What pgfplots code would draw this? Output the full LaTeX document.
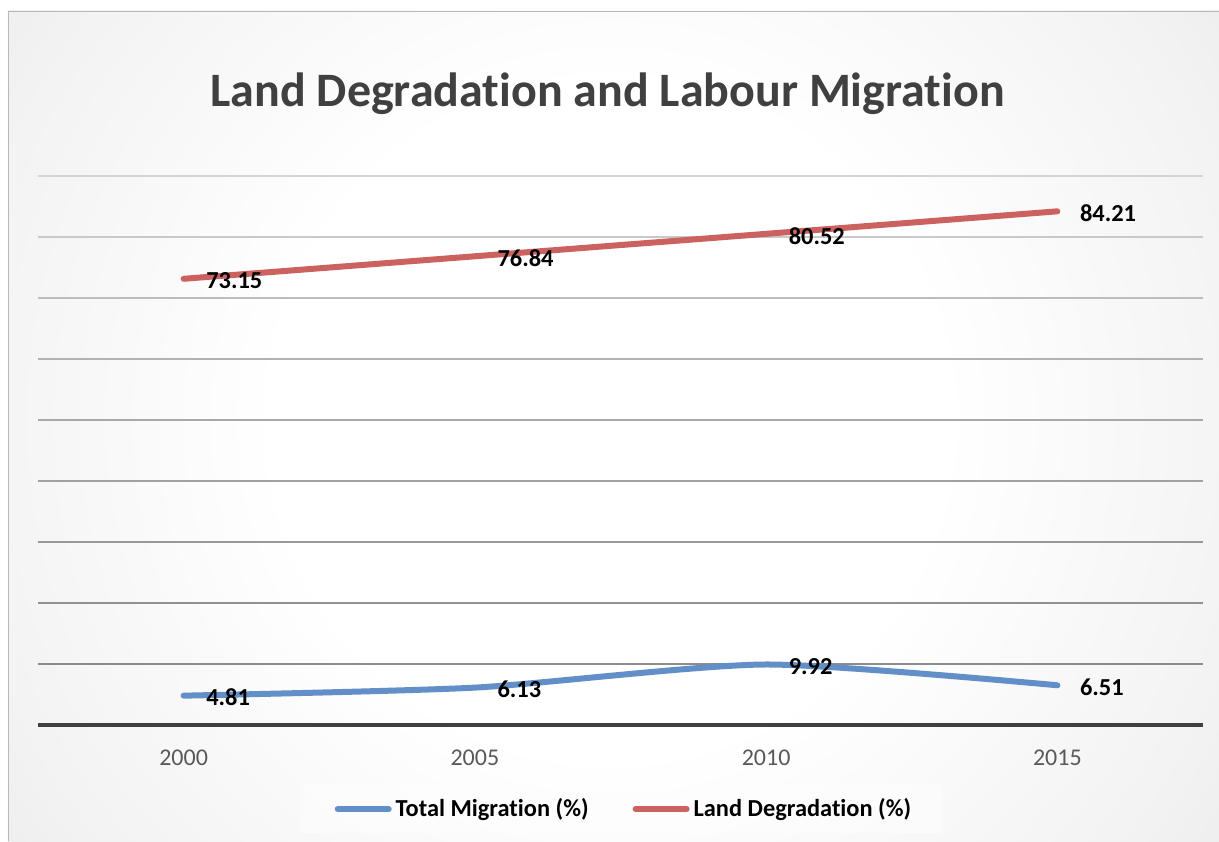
\documentclass[border=0pt]{standalone}
\usepackage{pgfplots}
\pgfplotsset{compat=1.18}
\usepackage{fontspec}
\setmainfont{Carlito}[Ligatures={NoCommon}]
\definecolor{titlegray}{HTML}{404040}
\definecolor{tickgray}{HTML}{595959}
\definecolor{axisgray}{HTML}{404040}
\definecolor{mblue}{RGB}{99,143,201}
\definecolor{mred}{RGB}{204,98,96}
\definecolor{bgA}{gray}{1.0}
\definecolor{bgB}{gray}{0.95}
\definecolor{bgC}{gray}{0.86}
\definecolor{bgD}{gray}{0.79}
\definecolor{bgE}{gray}{0.77}
\pgfdeclareradialshading{chartbg}{\pgfpoint{0bp}{0bp}}{%
  color(0bp)=(bgA); color(11bp)=(bgA); color(22bp)=(bgB); color(36bp)=(bgC); color(48bp)=(bgD); color(50bp)=(bgE)}
\begin{document}
\begin{tikzpicture}
\useasboundingbox (-19pt,-58pt) rectangle (590.5pt,362.5pt);
\fill[white] (-19pt,-58pt) rectangle (590.5pt,362.5pt);
\begin{scope}
\clip (-15pt,-58pt) rectangle (590.5pt,357pt);
\fill[bgE] (-15pt,-58pt) rectangle (590.5pt,357pt);
\shade[shading=chartbg] (286pt,152.5pt) circle (380pt);
\end{scope}
\draw[black!28, line width=0.5pt] (-14.75pt,-58pt) -- (-14.75pt,356.75pt) -- (590.5pt,356.75pt);
% legend box
\fill[white, opacity=0.45] (131pt,-54pt) rectangle (452pt,-30pt);
% title
\node[anchor=base, text=titlegray, font=\bfseries\fontsize{24}{29}\selectfont] at (284.75pt,309pt) {Land Degradation and Labour Migration};
\begin{axis}[
  at={(0pt,0pt)}, anchor=south west,
  scale only axis, width=582.5pt, height=274.5pt,
  xmin=-0.5, xmax=3.5, ymin=0, ymax=90,
  hide y axis,
  axis x line=bottom,
  x axis line style={axisgray, line width=2pt, -},
  xtick={0,1,2,3}, xticklabels={2000,2005,2010,2015},
  major tick length=0pt,
  xticklabel style={anchor=base, yshift=-20pt, text=tickgray, font=\fontsize{12}{14}\selectfont},
  /pgf/number format/assume math mode=true,
  clip=false,
  legend style={draw=none, fill=none, at={(axis description cs:0.5038,-0.153)}, anchor=center,
    font=\bfseries\fontsize{12.2}{14}\selectfont, inner sep=0pt,
    /tikz/every even column/.append style={column sep=20pt}},
  legend columns=2,
  legend image code/.code={\draw[#1, line width=3pt, line cap=round] (0pt,0pt) -- (25.5pt,0pt);},
  nodes near coords,
  point meta=explicit symbolic,
  every node near coord/.append style={anchor=west, xshift=6.5pt, yshift=-1pt, text=black, font=\bfseries\fontsize{12.2}{14}\selectfont},
]
\draw[black!17, line width=0.75pt] (axis cs:-0.5,90) -- (axis cs:3.5,90);
\draw[black!21, line width=0.75pt] (axis cs:-0.5,80) -- (axis cs:3.5,80);
\draw[black!26, line width=0.75pt] (axis cs:-0.5,70) -- (axis cs:3.5,70);
\draw[black!30, line width=0.75pt] (axis cs:-0.5,60) -- (axis cs:3.5,60);
\draw[black!34, line width=0.75pt] (axis cs:-0.5,50) -- (axis cs:3.5,50);
\draw[black!37, line width=0.75pt] (axis cs:-0.5,40) -- (axis cs:3.5,40);
\draw[black!40, line width=0.75pt] (axis cs:-0.5,30) -- (axis cs:3.5,30);
\draw[black!43, line width=0.75pt] (axis cs:-0.5,20) -- (axis cs:3.5,20);
\draw[black!45, line width=0.75pt] (axis cs:-0.5,10) -- (axis cs:3.5,10);
\addplot[mblue, line width=3pt, line cap=round, smooth, tension=0.4, mark=none]
  coordinates {(0,4.81) [4.81] (1,6.13) [6.13] (2,9.92) [9.92] (3,6.51) [6.51]};
\addlegendentry{Total Migration (\%)}
\addplot[mred, line width=3pt, line cap=round, smooth, tension=0.4, mark=none]
  coordinates {(0,73.15) [73.15] (1,76.84) [76.84] (2,80.52) [80.52] (3,84.21) [84.21]};
\addlegendentry{Land Degradation (\%)}
\end{axis}
\end{tikzpicture}
\end{document}
